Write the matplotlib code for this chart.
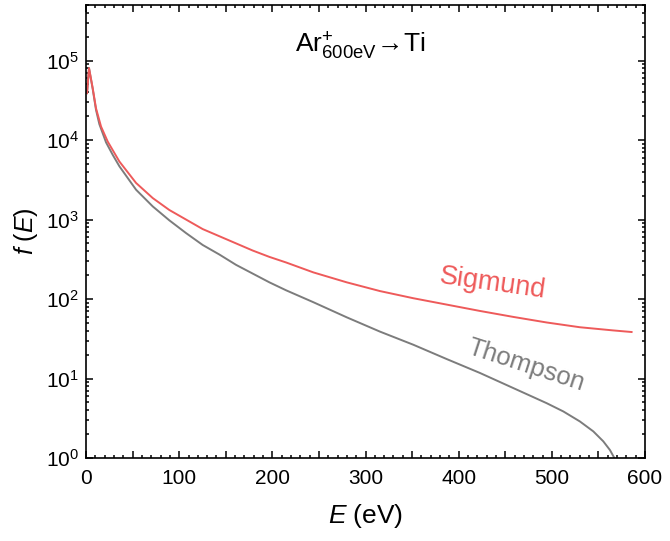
import numpy as np
import matplotlib
matplotlib.use('Agg')
import matplotlib.pyplot as plt
from matplotlib.ticker import MultipleLocator, FuncFormatter, LogLocator

plt.rcParams['font.family'] = ['Liberation Sans', 'DejaVu Sans']
plt.rcParams['mathtext.fontset'] = 'custom'
plt.rcParams['mathtext.rm'] = 'Liberation Sans'
plt.rcParams['mathtext.it'] = 'Liberation Sans:italic'
plt.rcParams['mathtext.bf'] = 'Liberation Sans:bold'

# --- data: energy (eV) and log10 f(E) ---
energy_sigmund = [1.1, 3.2, 7.2, 10.7, 16.1, 23.3, 35.8, 53.7, 71.6, 89.4, 107.3,
                  125.2, 143.1, 161, 178.9, 196.8, 214.7, 244, 279.8, 315.5, 351.3,
                  387.1, 422.8, 458.6, 494.4, 530.1, 565.9, 585.6]
logf_sigmund = [4.59, 4.905, 4.65, 4.40, 4.17, 3.98, 3.73, 3.46, 3.27, 3.12, 3.00,
                2.88, 2.79, 2.70, 2.61, 2.53, 2.46, 2.335, 2.21, 2.10, 2.01,
                1.93, 1.85, 1.775, 1.705, 1.645, 1.605, 1.585]

energy_thompson = [1.1, 3.2, 7.2, 10.7, 14.3, 21.5, 28.6, 35.8, 53.7, 71.6, 89.4,
                   107.3, 125.2, 143.1, 161, 178.9, 196.8, 214.7, 244, 279.8, 315.5,
                   351.3, 387.1, 422.8, 458.6, 494.4, 512.3, 530.1, 544.5, 555.2,
                   562.4, 567.1, 572, 577]
logf_thompson = [4.59, 4.905, 4.64, 4.38, 4.20, 3.97, 3.815, 3.67, 3.375, 3.165, 2.99,
                 2.83, 2.68, 2.56, 2.43, 2.32, 2.21, 2.11, 1.96, 1.77, 1.59,
                 1.425, 1.245, 1.07, 0.88, 0.69, 0.586, 0.46, 0.335, 0.21,
                 0.10, 0.0, -0.15, -0.35]

f_sigmund = 10 ** np.array(logf_sigmund)
f_thompson = 10 ** np.array(logf_thompson)

red = '#ee5a5a'
grey = '#7c7c7c'

fig = plt.figure(figsize=(6.7, 5.41), dpi=100)
ax = fig.add_axes([0.1284, 0.1534, 0.8343, 0.8374])

ax.plot(energy_thompson, f_thompson, color=grey, lw=1.4)
ax.plot(energy_sigmund, f_sigmund, color=red, lw=1.4)

ax.set_yscale('log')
ax.set_xlim(0, 600)
ax.set_ylim(1, 5e5)

# ticks
ax.xaxis.set_major_locator(MultipleLocator(50))
ax.xaxis.set_minor_locator(MultipleLocator(10))
ax.xaxis.set_major_formatter(FuncFormatter(lambda v, p: f'{int(v)}' if v % 100 == 0 else ''))
ax.yaxis.set_major_locator(LogLocator(base=10, numticks=10))
ax.yaxis.set_minor_locator(LogLocator(base=10, subs=np.arange(2, 10), numticks=20))
ax.tick_params(which='both', direction='in', top=True, right=True, width=1.1)
ax.tick_params(which='major', length=5, labelsize=15)
ax.tick_params(axis='x', which='major', pad=8)
ax.tick_params(axis='y', which='major', pad=5)
ax.tick_params(which='minor', length=2.5)
for s in ax.spines.values():
    s.set_linewidth(1.2)

ax.set_xlabel(r'$E\ $(eV)', fontsize=19, labelpad=10)
ax.set_ylabel(r'$f\ (E)$', fontsize=18, labelpad=4)

ax.text(0.49, 0.91, r'Ar$^{+}_{\mathrm{600eV}}$$\!\rightarrow\!$Ti', transform=ax.transAxes,
        fontsize=19, ha='center', va='center')
ax.text(436, 10 ** 2.19, 'Sigmund', color=red, fontsize=19.5,
        rotation=-8, ha='center', va='center')
ax.text(471.7, 10 ** 1.16, 'Thompson', color=grey, fontsize=18.5,
        rotation=-18, ha='center', va='center')

fig.savefig('out.png', dpi=100)
